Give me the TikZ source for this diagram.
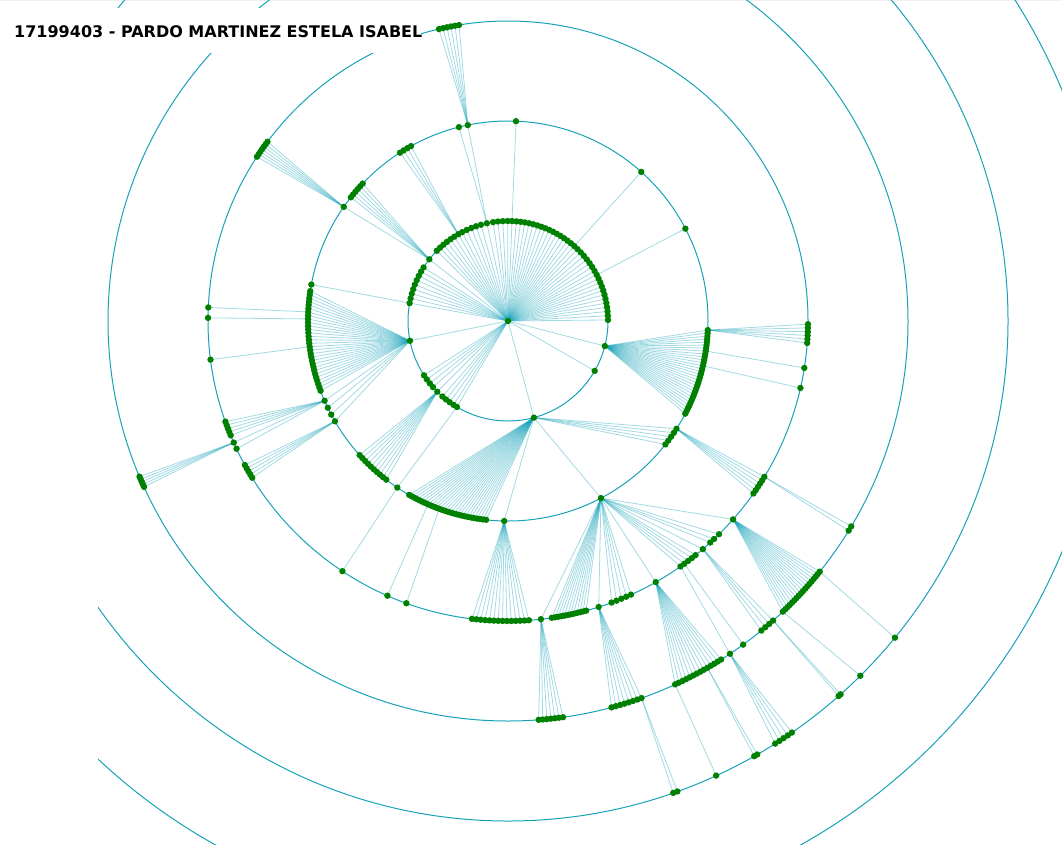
\documentclass[tikz,border=0pt]{standalone}
\usepackage{fontspec}
\setmainfont{DejaVu Sans}
\definecolor{ringcol}{HTML}{17A2B8}
\definecolor{dotcol}{HTML}{008000}
\tikzset{
  dot/.style={circle,fill=dotcol,draw=none,inner sep=0pt,minimum size=6.4pt},
  link/.style={draw=ringcol,draw opacity=0.4,line width=0.8pt},
  ring/.style={draw=ringcol,line width=1pt},
  titletext/.style={anchor=base west,inner sep=0pt,font=\fontsize{16}{19}\selectfont\bfseries}
}
\def\fanmode{0}
\newcommand\fan[6]{%
  \foreach \k in {1,...,#6}{%
    \pgfmathsetmacro\ang{#4+((#5)-(#4))*(\k-1)/max(#6-1,1)}%
    \ifnum\fanmode=0\relax
      \coordinate (#1-\k) at (\ang:#3);
      \draw[link] (#2) -- (#1-\k);
    \else
      \node[dot] (#1-\k-d) at (#1-\k) {};
    \fi
  }}
\newcommand\tree{%
% ring 1
\fan{ta}{root}{100}{-169.7}{-147.6}{9}
\fan{h1}{root}{100}{-141.9}{-141.9}{1}
\fan{tb}{root}{100}{-135.4}{-122.5}{6}
\fan{h2}{root}{100}{-119.8}{-119.8}{1}
\fan{tc}{root}{100}{-117.3}{-105.7}{5}
\fan{h3}{root}{100}{-102.2}{-102.2}{1}
\fan{td}{root}{100}{-98.6}{-90.2}{4}
\fan{h4}{root}{100}{-87.7}{-87.7}{1}
\fan{te}{root}{100}{-85.2}{-51}{15}
\fan{h5}{root}{100}{-48.5}{-48.5}{1}
\fan{tf}{root}{100}{-46}{-30}{7}
\fan{h6}{root}{100}{-27.5}{-27.5}{1}
\fan{tg}{root}{100}{-25}{-0.6}{11}
\fan{hl}{root}{100}{168.6}{168.6}{1}
\fan{la}{root}{100}{147.1}{138.6}{4}
\fan{hm}{root}{100}{135}{135}{1}
\fan{lb}{root}{100}{131}{123}{4}
\fan{hn}{root}{100}{120.7}{120.7}{1}
\fan{hb}{root}{100}{75}{75}{1}
\fan{lr}{root}{100}{29.9}{29.9}{1}
\fan{hr}{root}{100}{14.5}{14.5}{1}
% ring 2
\fan{a1}{ta-1}{200}{-169.5}{-169.5}{1}
\fan{a2}{h1-1}{200}{-145.2}{-145.2}{1}
\fan{a3}{h1-1}{200}{-141.8}{-136.6}{6}
\fan{a4}{h2-1}{200}{-122.7}{-119}{4}
\fan{a5}{h3-1}{200}{-104.2}{-104.2}{1}
\fan{a6}{h3-1}{200}{-101.6}{-101.6}{1}
\fan{a7}{h4-1}{200}{-87.7}{-87.7}{1}
\fan{a8}{h5-1}{200}{-48.2}{-48.2}{1}
\fan{a9}{h6-1}{200}{-27.5}{-27.5}{1}
\fan{b1}{hl-1}{200}{188.6}{159.6}{30}
\fan{b2}{hl-1}{200}{156.5}{149.9}{4}
\fan{b3}{hm-1}{200}{137.9}{127.5}{10}
\fan{b4}{hn-1}{200}{123.6}{123.6}{1}
\fan{c1}{hb-1}{200}{119.6}{96.3}{28}
\fan{c2}{hb-1}{200}{91.1}{91.1}{1}
\fan{c3}{hb-1}{200}{62.3}{62.3}{1}
\fan{c4}{hb-1}{200}{32.6}{38.1}{5}
\fan{d1}{hr-1}{200}{2.6}{27.6}{30}
% ring 3
\fan{e1}{a2-1}{300}{-146.8}{-143.3}{7}
\fan{e2}{a6-1}{300}{-103.3}{-99.4}{6}
\fan{e3}{b1-7}{300}{182.6}{182.6}{1}
\fan{e4}{b1-9}{300}{180.6}{180.6}{1}
\fan{e5}{b1-17}{300}{172.6}{172.6}{1}
\fan{e6}{b2-1}{300}{160.4}{157.6}{5}
\fan{e7}{b2-1}{300}{156.1}{156.1}{1}
\fan{e8}{b2-1}{300}{154.8}{154.8}{1}
\fan{e9}{b2-4}{300}{151.3}{148.5}{5}
\fan{e10}{b4-1}{300}{123.5}{123.5}{1}
\fan{e11}{c1-8}{300}{113.7}{113.7}{1}
\fan{e12}{c1-12}{300}{109.8}{109.8}{1}
\fan{f1}{c2-1}{300}{96.9}{86}{14}
\fan{f2}{c3-1}{300}{83.7}{83.7}{1}
\fan{f3}{c3-1}{300}{81.6}{74.9}{12}
\fan{f4}{c3-1}{300}{72.4}{72.4}{1}
\fan{f5}{c3-1}{300}{69.8}{65.8}{5}
\fan{f6}{c3-1}{300}{60.5}{60.5}{1}
\fan{fa}{c3-1}{300}{54.9}{51.3}{5}
\fan{fb}{c3-1}{300}{49.5}{49.5}{1}
\fan{fc}{c3-1}{300}{47.6}{46.6}{2}
\fan{fd}{c3-1}{300}{45.3}{45.3}{1}
\fan{fe}{c3-1}{300}{41.4}{41.4}{1}
\fan{g1}{c4-1}{300}{31.3}{35.1}{6}
\fan{g2}{d1-1}{300}{0.6}{4.2}{6}
\fan{g3}{d1-8}{300}{9.0}{9.0}{1}
\fan{g4}{d1-13}{300}{12.9}{12.9}{1}
% ring 4
\fan{i1}{e7-1}{400}{157.1}{155.5}{5}
\fan{j1}{f2-1}{400}{85.6}{82.1}{7}
\fan{j2}{f4-1}{400}{75}{70.5}{8}
\fan{j3}{f6-1}{400}{65.3}{57.8}{14}
\fan{j4}{fe-1}{400}{46.6}{38.8}{18}
\fan{j5}{fa-1}{400}{56.3}{56.3}{1}
\fan{j6}{fa-2}{400}{54.0}{54.0}{1}
\fan{j7}{fb-1}{400}{50.7}{48.5}{4}
\fan{k1}{g1-1}{400}{30.9}{31.6}{2}
% ring 5
\fan{m1}{j2-8}{500}{70.7}{70.2}{2}
\fan{m2}{j3-1}{500}{65.4}{65.4}{1}
\fan{m3}{j3-10}{500}{60.1}{60.5}{2}
\fan{m4}{j5-1}{500}{57.7}{55.4}{5}
\fan{m5}{j7-4}{500}{48.6}{48.3}{2}
\fan{m6}{j4-1}{500}{45.2}{45.2}{1}
\fan{m7}{j4-18}{500}{39.3}{39.3}{1}
}
\begin{document}
\begin{tikzpicture}[x=1pt,y=-1pt]
\useasboundingbox (0,0) rectangle (1062,844);
\fill[black!6] (0,0) rectangle (1062,1.2);
\begin{scope}
  \clip (98,0) rectangle (1062,844);
  \foreach \r in {100,200,300,400,500,600}{\draw[ring] (508,321) circle[radius=\r];}
\end{scope}
\fill[white] (0,8) rectangle (421,53);
\node[titletext] (title) at (14,37) {17199403 - PARDO MARTINEZ ESTELA ISABEL};
\begin{scope}[shift={(508,321)}]
\coordinate (root) at (0:0);
\def\fanmode{0}\tree
\def\fanmode{1}\tree
\node[dot] (root-d) at (root) {};
\end{scope}
\end{tikzpicture}
\end{document}
